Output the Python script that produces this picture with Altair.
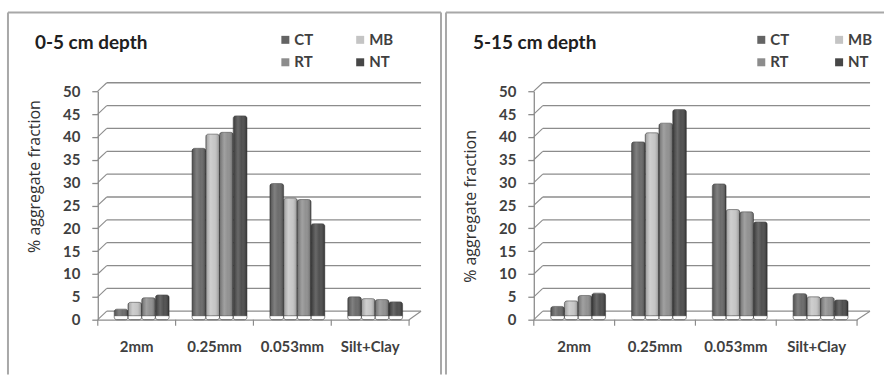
import altair as alt
import pandas as pd

categories = ["2mm", "0.25mm", "0.053mm", "Silt+Clay"]
series = ["CT", "MB", "RT", "NT"]
colors = ["#646464", "#c4c4c4", "#8c8c8c", "#474747"]
y_ticks = [0, 5, 10, 15, 20, 25, 30, 35, 40, 45, 50]

# 0-5 cm depth
top_ct = [2.3, 37.5, 29.8, 5.0]
top_mb = [3.8, 40.6, 26.6, 4.6]
top_rt = [4.8, 41.0, 26.3, 4.4]
top_nt = [5.4, 44.6, 21.0, 3.9]

# 5-15 cm depth
sub_ct = [2.9, 38.9, 29.7, 5.7]
sub_mb = [4.1, 40.9, 24.1, 5.0]
sub_rt = [5.3, 43.0, 23.6, 4.9]
sub_nt = [5.8, 46.0, 21.4, 4.3]

FONT = "Lato"
TXT = "#404040"
GRID = "#8c8c8c"
BORDER = "#a8a8a8"


def make_df(vals):
    rows = []
    for s, v in zip(series, vals):
        for c, x in zip(categories, v):
            rows.append({"cat": c, "series": s, "value": x})
    return pd.DataFrame(rows)


legend_df = pd.DataFrame({"series": series, "col": [0, 1, 0, 1], "row": [0, 0, 1, 1]})
grid_df = pd.DataFrame({"v": y_ticks})
one = pd.DataFrame({"a": [0]})


def panel(title, df, W, H, back_dx, ytitle_y, title_x, leg_x0, leg_dx, bl, br, right_line):
    pad_inner = 0.295
    step = W / len(categories)
    bw = step * (1 - pad_inner)
    xscale = alt.Scale(domain=categories, paddingInner=pad_inner, paddingOuter=pad_inner / 2)
    yscale = alt.Scale(domain=[0, 50], nice=False, zero=True)
    xoff_scale = alt.Scale(domain=series, range=[5, 5 + bw], paddingInner=0, paddingOuter=0)

    x_axis = alt.Axis(title=None, labelAngle=0, ticks=False, domainColor=GRID,
                      domainWidth=1.3, labelFont=FONT, labelFontSize=15,
                      labelFontWeight="bold", labelColor=TXT, labelPadding=20,
                      labelFlush=False, bandPosition=0.5, labelAlign="center")
    y_axis = alt.Axis(values=y_ticks, title="% aggregate fraction", grid=False,
                      labelOverlap=False, tickCount=11,
                      domainColor=GRID, domainWidth=1.3, tickColor=GRID, tickWidth=1.3,
                      tickSize=6, labelPadding=12, labelFont=FONT, labelFontSize=15,
                      labelFontWeight="bold", labelColor=TXT,
                      titleFont="Open Sans", titleFontSize=16, titleFontWeight="normal",
                      titleColor="#303030", titleX=-63, titleY=ytitle_y,
                      titleAlign="center", titleBaseline="middle")

    def Y(field):
        return alt.Y(field, scale=yscale, axis=y_axis, title="% aggregate fraction")

    def X(field):
        return alt.X(field, scale=xscale, sort=categories, axis=x_axis, title=None)

    back = alt.Chart(grid_df).mark_rule(color=GRID, strokeWidth=1.3, yOffset=-8.5).encode(
        y=Y("v:Q"), x=alt.value(9), x2=alt.value(W + back_dx))
    diag = alt.Chart(grid_df).mark_rule(color=GRID, strokeWidth=1.1, y2Offset=-8.5).encode(
        y=Y("v:Q"), y2=alt.Y2("v"), x=alt.value(0), x2=alt.value(9))
    floor_r = alt.Chart(grid_df).transform_filter("datum.v == 0").mark_rule(
        color=GRID, strokeWidth=1.1, y2Offset=-8.5).encode(
        y=Y("v:Q"), y2=alt.Y2("v"), x=alt.value(W), x2=alt.value(W + back_dx))
    xticks = alt.Chart(pd.DataFrame({"cat": categories})).mark_rule(
        color=GRID, strokeWidth=1.2, xOffset=-step / 2).encode(
        x=X("cat:N"), y=alt.value(H), y2=alt.value(H + 6))
    xtick_end = alt.Chart(one).mark_rule(color=GRID, strokeWidth=1.2).encode(
        x=alt.value(W), y=alt.value(H), y2=alt.value(H + 6))

    bars = alt.Chart(df).mark_bar(yOffset=-4, y2Offset=-4, cornerRadius=2.5,
                                  stroke="#3a3a3a", strokeWidth=0.6).encode(
        x=X("cat:N"),
        xOffset=alt.XOffset("series:N", sort=series, scale=xoff_scale),
        y=Y("value:Q"),
        color=alt.Color("series:N", scale=alt.Scale(domain=series, range=colors), legend=None),
    )
    shade = alt.Chart(df).mark_bar(
        yOffset=-4, y2Offset=-4, cornerRadius=2.5,
        color=alt.Gradient(gradient="linear", x1=0, x2=1, y1=0, y2=0, stops=[
            alt.GradientStop(offset=0, color="rgba(0,0,0,0.22)"),
            alt.GradientStop(offset=0.35, color="rgba(255,255,255,0.18)"),
            alt.GradientStop(offset=0.6, color="rgba(255,255,255,0.05)"),
            alt.GradientStop(offset=1, color="rgba(0,0,0,0.32)"),
        ])).encode(
        x=X("cat:N"),
        xOffset=alt.XOffset("series:N", sort=series, scale=xoff_scale),
        y=Y("value:Q"),
    )

    title_txt = alt.Chart(one).mark_text(font=FONT, fontSize=19, fontWeight="bold", color="#202020",
                                         align="left", baseline="middle").encode(
        x=alt.value(title_x), y=alt.value(-48), text=alt.value(title))

    leg_base = alt.Chart(legend_df).transform_calculate(
        px=f"{leg_x0} + datum.col * {leg_dx}", py="-51.5 + datum.row * 22.5", tx=f"{leg_x0 + 9} + datum.col * {leg_dx}")
    leg_sq = leg_base.mark_square(size=64, opacity=1).encode(
        x=alt.X("px:Q", scale=None), y=alt.Y("py:Q", scale=None),
        color=alt.Color("series:N", scale=alt.Scale(domain=series, range=colors), legend=None))
    leg_tx = leg_base.mark_text(font=FONT, fontSize=15, fontWeight="bold", color=TXT,
                                align="left", baseline="middle").encode(
        x=alt.X("tx:Q", scale=None), y=alt.Y("py:Q", scale=None), text="series:N")

    b_left = alt.Chart(one).mark_rule(color=BORDER, strokeWidth=2).encode(
        x=alt.value(bl), y=alt.value(-79), y2=alt.value(284))
    b_top = alt.Chart(one).mark_rule(color=BORDER, strokeWidth=2).encode(
        x=alt.value(bl), x2=alt.value(br), y=alt.value(-79))
    layers = [b_left, b_top]
    if right_line:
        layers.append(alt.Chart(one).mark_rule(color=BORDER, strokeWidth=2).encode(
            x=alt.value(br), y=alt.value(-79), y2=alt.value(284)))

    return alt.layer(back, *layers, diag, floor_r, xticks, xtick_end, bars, shade,
                     title_txt, leg_sq, leg_tx).properties(width=W, height=H)


left = panel("0-5 cm depth", make_df([top_ct, top_mb, top_rt, top_nt]), 312, 229, 12, 85,
             -63, 188, 75, -90, 344, True)
right = panel("5-15 cm depth", make_df([sub_ct, sub_mb, sub_rt, sub_nt]), 324, 229, 13, 115,
              -61, 228, 78, -88, 351, False)

chart = alt.hconcat(left, right, spacing=3).resolve_scale(x="independent", y="independent",
                                                           color="independent").properties(
    padding={"left": 7, "top": 11, "right": 0, "bottom": 0}, background="white"
).configure_view(stroke=None)

chart.save("out.html", embed_options={"renderer": "svg", "actions": False})
